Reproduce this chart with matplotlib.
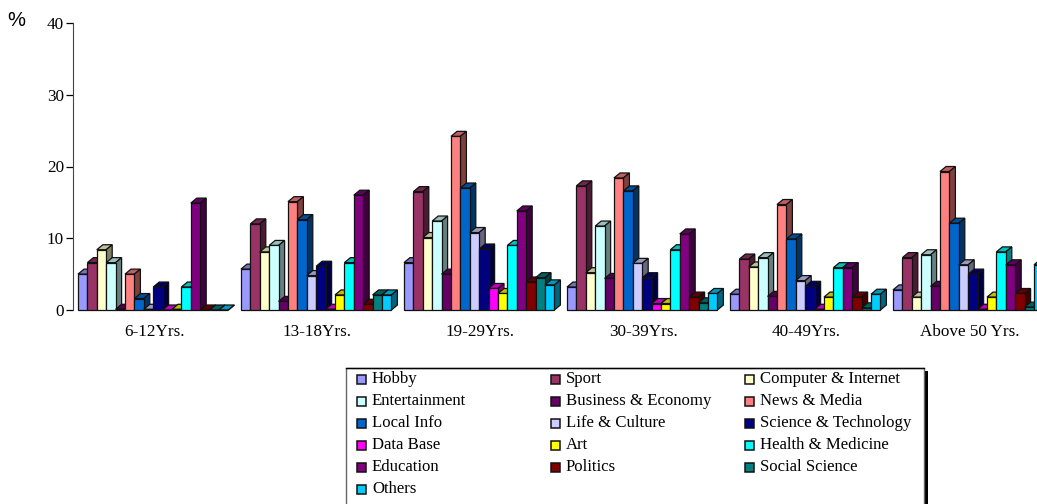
import numpy as np
import matplotlib
matplotlib.use("Agg")
import matplotlib.pyplot as plt
from matplotlib.colors import to_rgb
from matplotlib.patches import Rectangle

age_groups = ['6-12Yrs.', '13-18Yrs.', '19-29Yrs.', '30-39Yrs.', '40-49Yrs.', 'Above 50 Yrs.']

hobby = [5.0, 5.7, 6.6, 3.2, 2.2, 2.8]
sport = [6.6, 12.0, 16.5, 17.3, 7.1, 7.3]
computer = [8.4, 8.1, 10.1, 5.2, 6.0, 1.8]
entertainment = [6.6, 9.0, 12.4, 11.7, 7.3, 7.7]
business = [0.1, 1.2, 5.0, 4.4, 1.9, 3.3]
news = [5.0, 15.1, 24.2, 18.4, 14.7, 19.3]
local_info = [1.6, 12.6, 17.0, 16.6, 9.9, 12.1]
life = [0.1, 4.8, 10.8, 6.5, 4.1, 6.3]
science = [3.2, 6.1, 8.5, 4.5, 3.3, 5.0]
data_base = [0.0, 0.1, 3.0, 0.9, 0.1, 0.1]
art = [0.1, 2.1, 2.3, 0.9, 1.8, 1.8]
health = [3.2, 6.6, 9.0, 8.4, 5.9, 8.1]
education = [14.9, 16.0, 13.8, 10.6, 5.9, 6.3]
politics = [0.0, 0.8, 3.9, 1.8, 1.8, 2.3]
social = [0.0, 2.1, 4.5, 1.0, 0.3, 0.4]
others = [0.0, 2.1, 3.5, 2.3, 2.2, 6.3]

names = ['Hobby', 'Sport', 'Computer & Internet', 'Entertainment', 'Business & Economy',
         'News & Media', 'Local Info', 'Life & Culture', 'Science & Technology', 'Data Base',
         'Art', 'Health & Medicine', 'Education', 'Politics', 'Social Science', 'Others']
series = [hobby, sport, computer, entertainment, business, news, local_info, life, science,
          data_base, art, health, education, politics, social, others]
colors = ['#9999FF', '#993366', '#FFFFCC', '#CCFFFF', '#660066', '#FF8080', '#0066CC', '#CCCCFF',
          '#000080', '#FF00FF', '#FFFF00', '#00FFFF', '#800080', '#800000', '#008080', '#00CCFF']

W, H = 1037, 504
plt.rcParams['font.family'] = ['Liberation Serif', 'DejaVu Serif']
fig = plt.figure(figsize=(W / 100, H / 100), dpi=100, facecolor='white')

# axes run off the right edge, so the last group gets cut by the figure
left, base, top = 73, 310, 23
group_px = 163.0
ax = fig.add_axes([left / W, (H - base) / H, (W - left) / W, (base - top) / H])
ax.set_xlim(-0.5, (W - left) / group_px - 0.5)
ax.set_ylim(0, 40)

bar_w = 9.4 / group_px
depth_x = 6 / group_px
depth_y = 5 * 40 / (base - top)
shift = -1.3 / group_px
edge = dict(edgecolor='#111111', linewidth=0.9)


def shade(color, factor):
    return tuple(c * factor for c in to_rgb(color))


# fake 3D columns: front face, then top and side faces offset by the depth
for g in range(len(age_groups)):
    for i, (vals, col) in enumerate(zip(series, colors)):
        x0 = g + shift + (i - 8) * bar_w
        x1 = x0 + bar_w
        v = vals[g]
        ax.fill([x0, x1, x1 + depth_x, x0 + depth_x],
                [v, v, v + depth_y, v + depth_y],
                facecolor=shade(col, 0.75), clip_on=False, zorder=3 + i * 0.01, **edge)
        ax.fill([x1, x1 + depth_x, x1 + depth_x, x1],
                [0, depth_y, v + depth_y, v],
                facecolor=shade(col, 0.5), clip_on=False, zorder=3 + i * 0.01, **edge)
        ax.bar(x0, v, width=bar_w, align='edge', color=col, clip_on=False,
               zorder=3 + i * 0.01, **edge)

# only the value axis has a line, the groups just sit on the baseline
for side in ['top', 'right', 'bottom']:
    ax.spines[side].set_visible(False)
ax.spines['left'].set_color('#444444')

ax.set_yticks([0, 10, 20, 30, 40])
ax.tick_params(axis='y', length=5, width=0.9, labelsize=12.3, pad=1.5)
ax.set_xticks(range(len(age_groups)))
ax.set_xticklabels(age_groups)
ax.tick_params(axis='x', length=0, labelsize=12.3, pad=10)

fig.text(16 / W, 1 - 21 / H, '%', family=['Liberation Sans'], fontsize=14.5, ha='center', va='center')

# legend box, hand placed so it can run past the bottom edge
bg = fig.add_axes([0, 0, 1, 1], facecolor='none', zorder=5)
bg.set_xlim(0, W)
bg.set_ylim(H, 0)
bg.axis('off')
bg.add_patch(Rectangle((350, 370.5), 578, 140, facecolor='black', edgecolor='none'))
bg.add_patch(Rectangle((345.5, 367.5), 578, 140, facecolor='white', edgecolor='#666666', linewidth=1))
bg.plot([345.5, 923.5], [367.5, 367.5], color='black', linewidth=1)

col_x = [357, 551, 745]
row_y = [379, 401, 423, 445, 467, 489]
for i, (name, col) in enumerate(zip(names, colors)):
    x = col_x[i % 3]
    y = row_y[i // 3]
    bg.add_patch(Rectangle((x, y - 4.5), 9, 9, facecolor=col, edgecolor='#111111', linewidth=1.1))
    bg.text(x + 15, y, name, fontsize=12.1, va='center', ha='left')

fig.savefig('out.png', dpi=100)
